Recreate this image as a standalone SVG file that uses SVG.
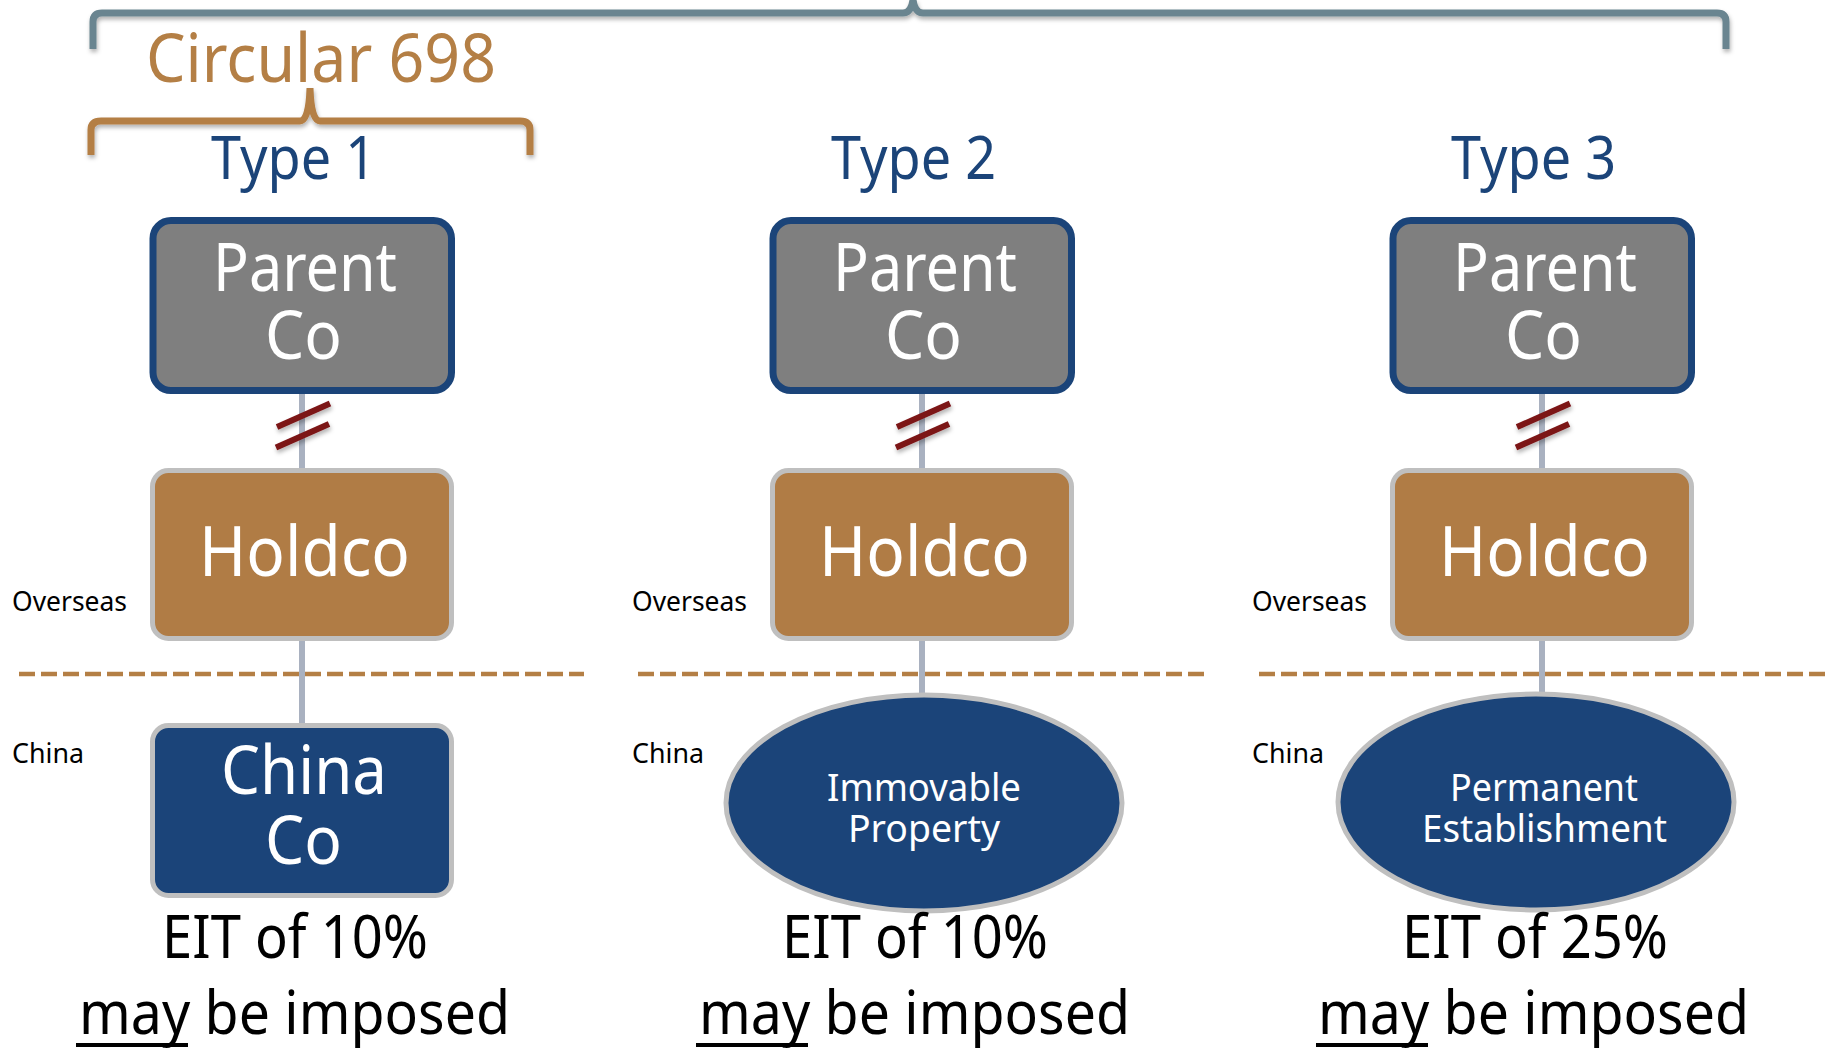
<svg xmlns="http://www.w3.org/2000/svg" width="1829" height="1049" viewBox="0 0 1829 1049">
<defs>
<filter id="sh" x="-5%" y="-50%" width="110%" height="200%">
<feDropShadow dx="1" dy="3" stdDeviation="2" flood-color="#000" flood-opacity="0.3"/>
</filter>
<style>
text{font-family:"Noto Sans","Open Sans","Liberation Sans",sans-serif}
.parent{fill:#7f7f7f;stroke:#1b4479;stroke-width:7}
.hold{fill:#b07c45;stroke:#bfbfbf;stroke-width:5}
.china{fill:#1b4479;stroke:#bfbfbf;stroke-width:5}
.wt{fill:#fff;text-anchor:middle}
.big{font-size:68px}
.type{fill:#1b4479;font-size:60px;text-anchor:middle}
.lbl{fill:#000;font-size:27px}
.eit{fill:#000;font-size:60px;text-anchor:middle}
.ell{font-size:39px}
.conn{stroke:#a9b1c0;stroke-width:6;fill:none}
.slash{stroke:#7b1416;stroke-width:6;fill:none}
.dash{stroke:#b47f45;stroke-width:4.5;stroke-dasharray:16 6;fill:none}
.ul{stroke:#000;stroke-width:4}
</style>
</defs>

<g id="braces">
<path d="M93,49 L93,22 Q93,13 102,13 L903,13 Q911,13 913,0 Q915,13 923,13 L1717,13 Q1726,13 1726,22 L1726,49" fill="none" stroke="#6b8590" stroke-width="7" filter="url(#sh)"/>
<path d="M91,155 L91,130 Q91,121 101,121 L300,121 Q309,121 310,88 Q311,121 320,121 L520,121 Q530,121 530,130 L530,155" fill="none" stroke="#b47f45" stroke-width="7" filter="url(#sh)"/>
<text x="321" y="82" font-size="68" fill="#b47f45" text-anchor="middle" textLength="350" lengthAdjust="spacingAndGlyphs">Circular 698</text>
</g>

<g id="dividers">
<line class="dash" x1="19" y1="674" x2="584" y2="674"/>
<line class="dash" x1="638" y1="674" x2="1204" y2="674"/>
<line class="dash" x1="1259" y1="674" x2="1829" y2="674"/>
</g>

<g id="connectors">
<line class="conn" x1="302" y1="393" x2="302" y2="470"/>
<line class="conn" x1="302" y1="640" x2="302" y2="725"/>
<line class="conn" x1="922" y1="393" x2="922" y2="470"/>
<line class="conn" x1="922" y1="640" x2="922" y2="700"/>
<line class="conn" x1="1542" y1="393" x2="1542" y2="470"/>
<line class="conn" x1="1542" y1="640" x2="1542" y2="700"/>
<g filter="url(#sh)">
<line class="slash" x1="277" y1="427" x2="330" y2="403.5"/>
<line class="slash" x1="276" y1="447.5" x2="329" y2="424"/>
<line class="slash" x1="897" y1="427" x2="950" y2="403.5"/>
<line class="slash" x1="896" y1="447.5" x2="949" y2="424"/>
<line class="slash" x1="1517" y1="427" x2="1570" y2="403.5"/>
<line class="slash" x1="1516" y1="447.5" x2="1569" y2="424"/>
</g>
</g>

<!-- Column 1 -->
<g id="type1">
<text class="type" x="293.5" y="179" textLength="165" lengthAdjust="spacingAndGlyphs">Type 1</text>
</g>
<g id="parent1">
<rect class="parent" x="153" y="220.5" width="298.5" height="170" rx="18"/>
<text class="wt big"><tspan x="305" y="291" textLength="184" lengthAdjust="spacingAndGlyphs">Parent</tspan><tspan x="303.5" y="359" textLength="77" lengthAdjust="spacingAndGlyphs">Co</tspan></text>
</g>
<g id="holdco1">
<rect class="hold" x="152.5" y="470.5" width="299" height="168" rx="16"/>
<text class="wt" x="304.5" y="576" font-size="70" textLength="211" lengthAdjust="spacingAndGlyphs">Holdco</text>
</g>
<g id="chinaco1">
<rect class="china" x="152.5" y="725.5" width="299" height="170" rx="16"/>
<text class="wt big"><tspan x="304" y="794" textLength="166" lengthAdjust="spacingAndGlyphs">China</tspan><tspan x="303.5" y="864" textLength="77" lengthAdjust="spacingAndGlyphs">Co</tspan></text>
</g>
<g id="labels1">
<text class="lbl" x="12" y="611" textLength="115" lengthAdjust="spacingAndGlyphs">Overseas</text>
<text class="lbl" x="12" y="763" textLength="72" lengthAdjust="spacingAndGlyphs">China</text>
</g>
<g id="eit1">
<text class="eit" x="295" y="958" textLength="266" lengthAdjust="spacingAndGlyphs">EIT of 10%</text>
<text class="eit" x="294.5" y="1034" textLength="431" lengthAdjust="spacingAndGlyphs">may be imposed</text>
<line class="ul" x1="76" y1="1045" x2="188" y2="1045"/>
</g>

<!-- Column 2 -->
<g id="type2">
<text class="type" x="913.5" y="179" textLength="165" lengthAdjust="spacingAndGlyphs">Type 2</text>
</g>
<g id="parent2">
<rect class="parent" x="773" y="220.5" width="298.5" height="170" rx="18"/>
<text class="wt big"><tspan x="925" y="291" textLength="184" lengthAdjust="spacingAndGlyphs">Parent</tspan><tspan x="923.5" y="359" textLength="77" lengthAdjust="spacingAndGlyphs">Co</tspan></text>
</g>
<g id="holdco2">
<rect class="hold" x="772.5" y="470.5" width="299" height="168" rx="16"/>
<text class="wt" x="924.5" y="576" font-size="70" textLength="211" lengthAdjust="spacingAndGlyphs">Holdco</text>
</g>
<g id="property2">
<ellipse class="china" cx="924" cy="803" rx="198" ry="108"/>
<text class="wt ell"><tspan x="924" y="801" textLength="194" lengthAdjust="spacingAndGlyphs">Immovable</tspan><tspan x="924" y="842" textLength="152" lengthAdjust="spacingAndGlyphs">Property</tspan></text>
</g>
<g id="labels2">
<text class="lbl" x="632" y="611" textLength="115" lengthAdjust="spacingAndGlyphs">Overseas</text>
<text class="lbl" x="632" y="763" textLength="72" lengthAdjust="spacingAndGlyphs">China</text>
</g>
<g id="eit2">
<text class="eit" x="915" y="958" textLength="266" lengthAdjust="spacingAndGlyphs">EIT of 10%</text>
<text class="eit" x="914.5" y="1034" textLength="431" lengthAdjust="spacingAndGlyphs">may be imposed</text>
<line class="ul" x1="696" y1="1045" x2="808" y2="1045"/>
</g>

<!-- Column 3 -->
<g id="type3">
<text class="type" x="1533.5" y="179" textLength="165" lengthAdjust="spacingAndGlyphs">Type 3</text>
</g>
<g id="parent3">
<rect class="parent" x="1393" y="220.5" width="298.5" height="170" rx="18"/>
<text class="wt big"><tspan x="1545" y="291" textLength="184" lengthAdjust="spacingAndGlyphs">Parent</tspan><tspan x="1543.5" y="359" textLength="77" lengthAdjust="spacingAndGlyphs">Co</tspan></text>
</g>
<g id="holdco3">
<rect class="hold" x="1392.5" y="470.5" width="299" height="168" rx="16"/>
<text class="wt" x="1544.5" y="576" font-size="70" textLength="211" lengthAdjust="spacingAndGlyphs">Holdco</text>
</g>
<g id="pe3">
<ellipse class="china" cx="1536" cy="802" rx="198" ry="108"/>
<text class="wt ell"><tspan x="1544" y="801" textLength="188" lengthAdjust="spacingAndGlyphs">Permanent</tspan><tspan x="1544.5" y="842" textLength="245" lengthAdjust="spacingAndGlyphs">Establishment</tspan></text>
</g>
<g id="labels3">
<text class="lbl" x="1252" y="611" textLength="115" lengthAdjust="spacingAndGlyphs">Overseas</text>
<text class="lbl" x="1252" y="763" textLength="72" lengthAdjust="spacingAndGlyphs">China</text>
</g>
<g id="eit3">
<text class="eit" x="1535" y="958" textLength="266" lengthAdjust="spacingAndGlyphs">EIT of 25%</text>
<text class="eit" x="1533.5" y="1034" textLength="431" lengthAdjust="spacingAndGlyphs">may be imposed</text>
<line class="ul" x1="1316" y1="1045" x2="1428" y2="1045"/>
</g>
</svg>
